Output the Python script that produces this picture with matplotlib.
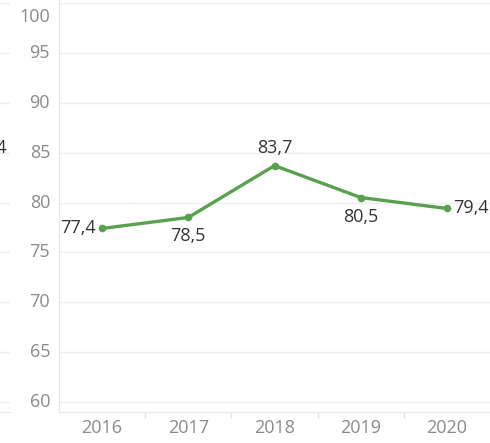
import matplotlib.pyplot as plt
from matplotlib.ticker import FixedLocator

plt.rcParams['font.family'] = ['Open Sans', 'DejaVu Sans']

# index values by year
years = ['2016', '2017', '2018', '2019', '2020']
values = [77.4, 78.5, 83.7, 80.5, 79.4]
labels = ['77,4', '78,5', '83,7', '80,5', '79,4']
yticks = [60, 65, 70, 75, 80, 85, 90, 95, 100]

W, H = 490, 443
fig = plt.figure(figsize=(W / 100, H / 100), dpi=100)

grid_c = '#efefef'
tick_c = '#8a8a8a'
line_c = '#59a14f'
ylo, yhi = 59.0, 100.3

ax = fig.add_axes([59 / W, 31 / H, 431 / W, 412 / H])
x = list(range(len(years)))
ax.plot(x, values, color=line_c, lw=2.4, marker='o', ms=4.5, zorder=3,
        solid_capstyle='round')

ax.set_xlim(-0.5, len(years) - 0.5)
ax.set_ylim(ylo, yhi)
ax.set_yticks(yticks)
ax.yaxis.grid(True, color=grid_c, lw=1)
ax.set_axisbelow(True)
ax.tick_params(axis='y', length=0, labelleft=False)
for v in yticks:
    off = -14 if v == 100 else 0
    ax.annotate(str(v), xy=(0, v), xycoords=('axes fraction', 'data'),
                xytext=(-9, off), textcoords='offset pixels',
                ha='right', va='center', fontsize=13, color=tick_c)

ax.set_xticks(x)
ax.set_xticklabels(years, fontsize=13, color=tick_c)
ax.tick_params(axis='x', length=0, pad=5)
ax.xaxis.set_minor_locator(FixedLocator([i + 0.5 for i in x[:-1]]))
ax.tick_params(axis='x', which='minor', length=4, color='#e3e3e3', width=1)

for s in ['top', 'right']:
    ax.spines[s].set_visible(False)
ax.spines['left'].set_color('#e6e6e6')
ax.spines['bottom'].set_color('#e6e6e6')

# value labels around each point
offsets = [(-6, 0, 'right', 'center'), (0, -10, 'center', 'top'),
           (0, 9, 'center', 'bottom'), (0, -10, 'center', 'top'),
           (6, 0, 'left', 'center')]
for xi, v, lab, (dx, dy, ha, va) in zip(x, values, labels, offsets):
    ax.annotate(lab, xy=(xi, v), xytext=(dx, dy), textcoords='offset pixels',
                ha=ha, va=va, fontsize=13, color='#333333')

# edge of the neighbouring panel
ax0 = fig.add_axes([0, 31 / H, 10 / W, 412 / H])
ax0.set_ylim(ylo, yhi)
ax0.set_yticks(yticks)
ax0.yaxis.grid(True, color=grid_c, lw=1)
ax0.set_xticks([])
ax0.tick_params(axis='y', length=0, labelleft=False)
for s in ['top', 'right', 'left']:
    ax0.spines[s].set_visible(False)
ax0.spines['bottom'].set_color('#e6e6e6')
fig.text(7 / W, 1 - 148 / H, '79,4', ha='right', va='center',
         fontsize=13, color='#333333')

fig.savefig('out.png', dpi=100)
